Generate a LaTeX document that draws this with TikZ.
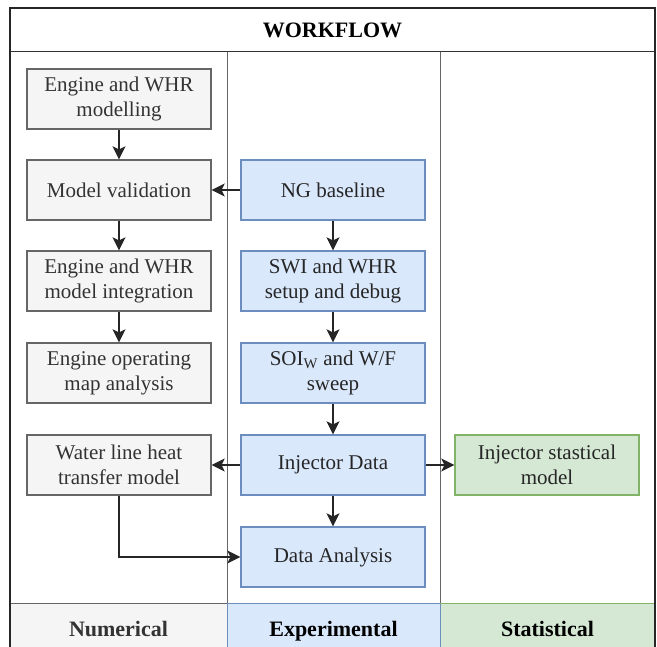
\documentclass[tikz,border=0pt]{standalone}
\usepackage{fontspec}
\setmainfont{Liberation Serif}
\usetikzlibrary{arrows.meta}
\definecolor{gfill}{HTML}{F5F5F5}
\definecolor{gline}{HTML}{666666}
\definecolor{gtext}{HTML}{333333}
\definecolor{bfill}{HTML}{DAE8FC}
\definecolor{bline}{HTML}{6C8EBF}
\definecolor{nfill}{HTML}{D5E8D4}
\definecolor{nline}{HTML}{82B366}
\tikzset{
  base/.style={minimum width=184pt, minimum height=60pt, inner sep=0pt, line width=1.3pt,
    align=center, font=\fontsize{21}{25}\selectfont},
  numbox/.style={base, draw=gline, fill=gfill, text=gtext},
  expbox/.style={base, draw=bline, fill=bfill, text=black!85},
  statbox/.style={base, draw=nline, fill=nfill, text=black!85},
  conn/.style={line width=1.8pt, draw=black!85, -{Stealth[length=13pt,width=13pt,inset=3pt]}},
  lbl/.style={font=\fontsize{22}{26}\selectfont\bfseries, anchor=base},
}
\begin{document}
\begin{tikzpicture}[x=1pt,y=-1pt]
\useasboundingbox (0,0) rectangle (657,647);
% bottom label cells
\fill[gfill] (10,603) rectangle (227,647);
\fill[bfill] (227,603) rectangle (440,647);
\fill[nfill] (440,603) rectangle (655,647);
\draw[gline, line width=1pt] (10,603) -- (227,603);
\draw[bline, line width=1pt] (227,603) -- (440,603) (227,603) -- (227,647) (440,603) -- (440,647);
\draw[nline, line width=1pt] (440,603) -- (655,603);
% column dividers
\draw[gline, line width=1pt] (227,52) -- (227,603) (440,52) -- (440,603);
\draw[black!80, line width=1pt] (10,52) -- (655,52);
% outer frame
\draw[black!85, line width=1.6pt] (10,647) -- (10,8) -- (655,8) -- (655,647);
\node[lbl] (title) at (332.5,38) {WORKFLOW};
\node[lbl, text=gtext] (lnum) at (118.5,636) {Numerical};
\node[lbl] (lexp) at (333.5,636) {Experimental};
\node[lbl] (lstat) at (547.5,636) {Statistical};
% numerical
\node[numbox] (n1) at (119,99) {Engine and WHR\\modelling};
\node[numbox] (n2) at (119,190) {Model validation};
\node[numbox] (n3) at (119,281) {Engine and WHR\\model integration};
\node[numbox] (n4) at (119,373) {Engine operating\\map analysis};
\node[numbox] (n5) at (119,465) {Water line heat\\transfer model};
% experimental
\node[expbox] (e1) at (333,190) {NG baseline};
\node[expbox] (e2) at (333,281) {SWI and WHR\\setup and debug};
\node[expbox] (e3) at (333,373) {SOI\textsubscript{W} and W/F\\sweep};
\node[expbox] (e4) at (333,465) {Injector Data};
\node[expbox] (e5) at (333,557) {Data Analysis};
% statistical
\node[statbox] (s1) at (547,465) {Injector stastical\\model};
% connectors
\draw[conn] (n1) -- (n2);
\draw[conn] (n2) -- (n3);
\draw[conn] (n3) -- (n4);
\draw[conn] (e1) -- (n2);
\draw[conn] (e1) -- (e2);
\draw[conn] (e2) -- (e3);
\draw[conn] (e3) -- (e4);
\draw[conn] (e4) -- (n5);
\draw[conn] (e4) -- (s1);
\draw[conn] (e4) -- (e5);
\draw[conn] (n5.south) |- (e5.west);
\end{tikzpicture}
\end{document}
